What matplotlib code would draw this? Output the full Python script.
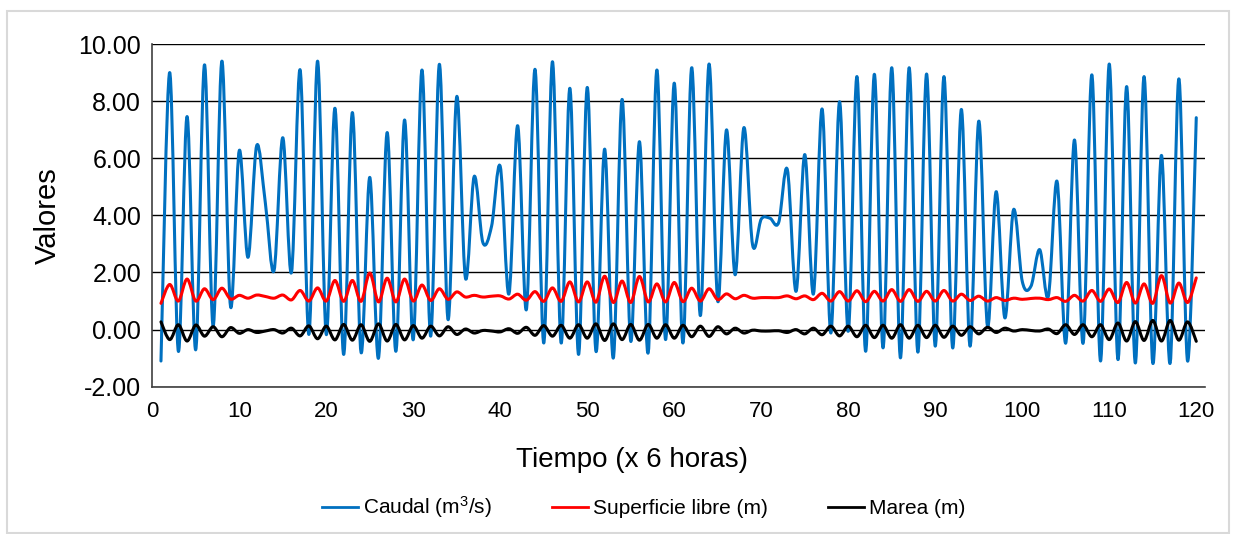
import matplotlib
matplotlib.use("Agg")
import matplotlib.pyplot as plt
from matplotlib.path import Path
from matplotlib.patches import PathPatch, Rectangle
from matplotlib.lines import Line2D
from matplotlib.ticker import FormatStrFormatter
import numpy as np

# paso de tiempo (x 6 horas)
tiempo = list(range(1, 121))

caudal = [
    -1.10, 9.00, -0.76, 7.46, -0.70, 9.27, 0.12, 9.40, 0.80, 6.27,
    2.53, 6.44, 4.43, 2.07, 6.72, 2.00, 9.09, -0.17, 9.40, -0.17,
    7.75, -0.87, 7.60, -0.80, 5.33, -1.00, 6.90, -0.76, 7.34, -0.35,
    9.09, -0.23, 9.29, 0.35, 8.16, 1.80, 5.36, 3.05, 3.62, 5.71,
    1.25, 7.14, 0.70, 9.11, -0.47, 9.38, -0.47, 8.45, -0.87, 8.48,
    -0.76, 6.32, -0.99, 8.06, -0.41, 6.58, -0.81, 9.09, -0.35, 8.63,
    -0.47, 9.17, 0.49, 9.30, 0.99, 6.99, 1.92, 7.07, 2.97, 3.87,
    3.90, 3.75, 5.60, 1.34, 6.13, 1.25, 7.72, -0.12, 7.98, -0.06,
    8.86, -0.76, 8.94, -0.64, 9.17, -0.99, 9.17, -0.79, 8.95, -0.58,
    8.86, -0.64, 7.71, -0.58, 7.30, 0.12, 4.83, 0.41, 4.20, 1.69,
    1.52, 2.80, 1.17, 5.19, -0.47, 6.64, -0.47, 8.92, -1.10, 9.30,
    -1.05, 8.51, -1.17, 8.86, -1.17, 6.10, -1.17, 8.78, -1.10, 7.42,
]

superficie = [
    0.92, 1.58, 1.00, 1.77, 1.00, 1.43, 1.05, 1.45, 1.07, 1.20,
    1.10, 1.21, 1.16, 1.10, 1.21, 1.04, 1.37, 1.00, 1.46, 1.00,
    1.72, 0.99, 1.72, 0.99, 1.98, 0.97, 1.80, 0.97, 1.77, 1.00,
    1.56, 1.02, 1.43, 1.06, 1.32, 1.14, 1.20, 1.14, 1.17, 1.18,
    1.07, 1.24, 1.03, 1.33, 0.99, 1.46, 0.99, 1.67, 0.97, 1.67,
    0.96, 1.87, 0.95, 1.70, 0.95, 1.86, 0.97, 1.60, 0.97, 1.65,
    0.98, 1.45, 1.00, 1.43, 1.05, 1.25, 1.08, 1.20, 1.10, 1.12,
    1.12, 1.12, 1.18, 1.08, 1.18, 1.05, 1.27, 1.00, 1.33, 1.00,
    1.36, 0.98, 1.34, 1.00, 1.40, 0.99, 1.40, 0.99, 1.34, 1.00,
    1.37, 1.00, 1.24, 1.02, 1.17, 1.00, 1.12, 1.02, 1.10, 1.06,
    1.09, 1.10, 1.05, 1.12, 0.99, 1.20, 1.00, 1.37, 0.99, 1.42,
    0.95, 1.65, 0.93, 1.60, 0.92, 1.89, 0.93, 1.63, 0.95, 1.81,
]

marea = [
    0.27, -0.35, 0.17, -0.40, 0.16, -0.23, 0.10, -0.25, 0.07, -0.13,
    0.00, -0.10, -0.05, 0.00, -0.12, 0.05, -0.22, 0.13, -0.32, 0.12,
    -0.36, 0.18, -0.37, 0.17, -0.41, 0.20, -0.40, 0.18, -0.36, 0.14,
    -0.30, 0.12, -0.22, 0.10, -0.17, 0.02, -0.12, -0.03, -0.05, -0.08,
    0.03, -0.13, 0.08, -0.20, 0.14, -0.23, 0.15, -0.30, 0.17, -0.30,
    0.20, -0.38, 0.20, -0.35, 0.18, -0.37, 0.18, -0.30, 0.17, -0.30,
    0.15, -0.25, 0.12, -0.24, 0.10, -0.15, 0.05, -0.12, -0.02, -0.05,
    -0.05, -0.04, -0.10, 0.00, -0.15, 0.05, -0.18, 0.12, -0.22, 0.12,
    -0.25, 0.15, -0.28, 0.15, -0.30, 0.17, -0.30, 0.15, -0.28, 0.15,
    -0.27, 0.12, -0.20, 0.10, -0.15, 0.08, -0.10, 0.05, -0.05, 0.00,
    -0.03, -0.05, 0.02, -0.14, 0.17, -0.17, 0.17, -0.25, 0.17, -0.35,
    0.23, -0.40, 0.28, -0.38, 0.32, -0.40, 0.32, -0.37, 0.27, -0.41,
]

series = [
    ("Caudal (m$^{3}$/s)", caudal, "#0070C0"),
    ("Superficie libre (m)", superficie, "#FF0000"),
    ("Marea (m)", marea, "#000000"),
]


def linea_suavizada(x, y):
    # curva bezier tipo "linea suavizada" de Excel
    pts = np.column_stack([x, y]).astype(float)
    n = len(pts)
    verts = [pts[0]]
    codes = [Path.MOVETO]
    for i in range(n - 1):
        p0 = pts[max(i - 1, 0)]
        p1 = pts[i]
        p2 = pts[i + 1]
        p3 = pts[min(i + 2, n - 1)]
        verts += [p1 + (p2 - p0) / 6, p2 - (p3 - p1) / 6, p2]
        codes += [Path.CURVE4] * 3
    return Path(verts, codes)


plt.rcParams['font.family'] = ['Liberation Sans', 'DejaVu Sans']
plt.rcParams['mathtext.fontset'] = 'custom'
plt.rcParams['mathtext.rm'] = 'Liberation Sans'
plt.rcParams['mathtext.it'] = 'Liberation Sans'

fig = plt.figure(figsize=(12.43, 5.34), dpi=100)
fig.patch.set_facecolor('white')
ax = fig.add_axes([0.1225, 0.2758, 0.8469, 0.6418])

# marco del grafico
fig.patches.append(Rectangle((7 / 1243, 1 - 533 / 534), 1222 / 1243, 522 / 534,
                             transform=fig.transFigure, fill=False,
                             edgecolor='#d9d9d9', lw=1.5))

handles = []
for i, (nombre, valores, color) in enumerate(series):
    ax.add_patch(PathPatch(linea_suavizada(tiempo, valores), fill=False,
                           edgecolor=color, lw=2.2, zorder=3 + i,
                           joinstyle='round', capstyle='round'))
    handles.append(Line2D([], [], color=color, lw=2.0))

ax.set_xlim(0, 121)
ax.set_ylim(-2, 10)
ax.set_xticks(range(0, 121, 10))
ax.set_yticks(range(-2, 11, 2))
ax.yaxis.set_major_formatter(FormatStrFormatter('%.2f'))
ax.grid(axis='y', color='black', lw=1.0)
ax.set_axisbelow(True)
ax.tick_params(length=0, labelsize=18, pad=8)
ax.tick_params(axis='x', labelsize=16, pad=10)

for s in ['top', 'right']:
    ax.spines[s].set_visible(False)
for s in ['left', 'bottom']:
    ax.spines[s].set_color('#404040')
    ax.spines[s].set_linewidth(1.2)

ax.set_ylabel('Valores', fontsize=21, labelpad=12)
ax.set_xlabel('Tiempo (x 6 horas)', fontsize=20)
ax.xaxis.set_label_coords(0.456, -0.176)

fig.legend(handles, [s[0] for s in series], loc='center',
           bbox_to_anchor=(0.518, 0.05), ncol=3, frameon=False,
           prop={'size': 15}, handlelength=1.7, handletextpad=0.25,
           columnspacing=2.9)

fig.savefig('out.png', dpi=100)
